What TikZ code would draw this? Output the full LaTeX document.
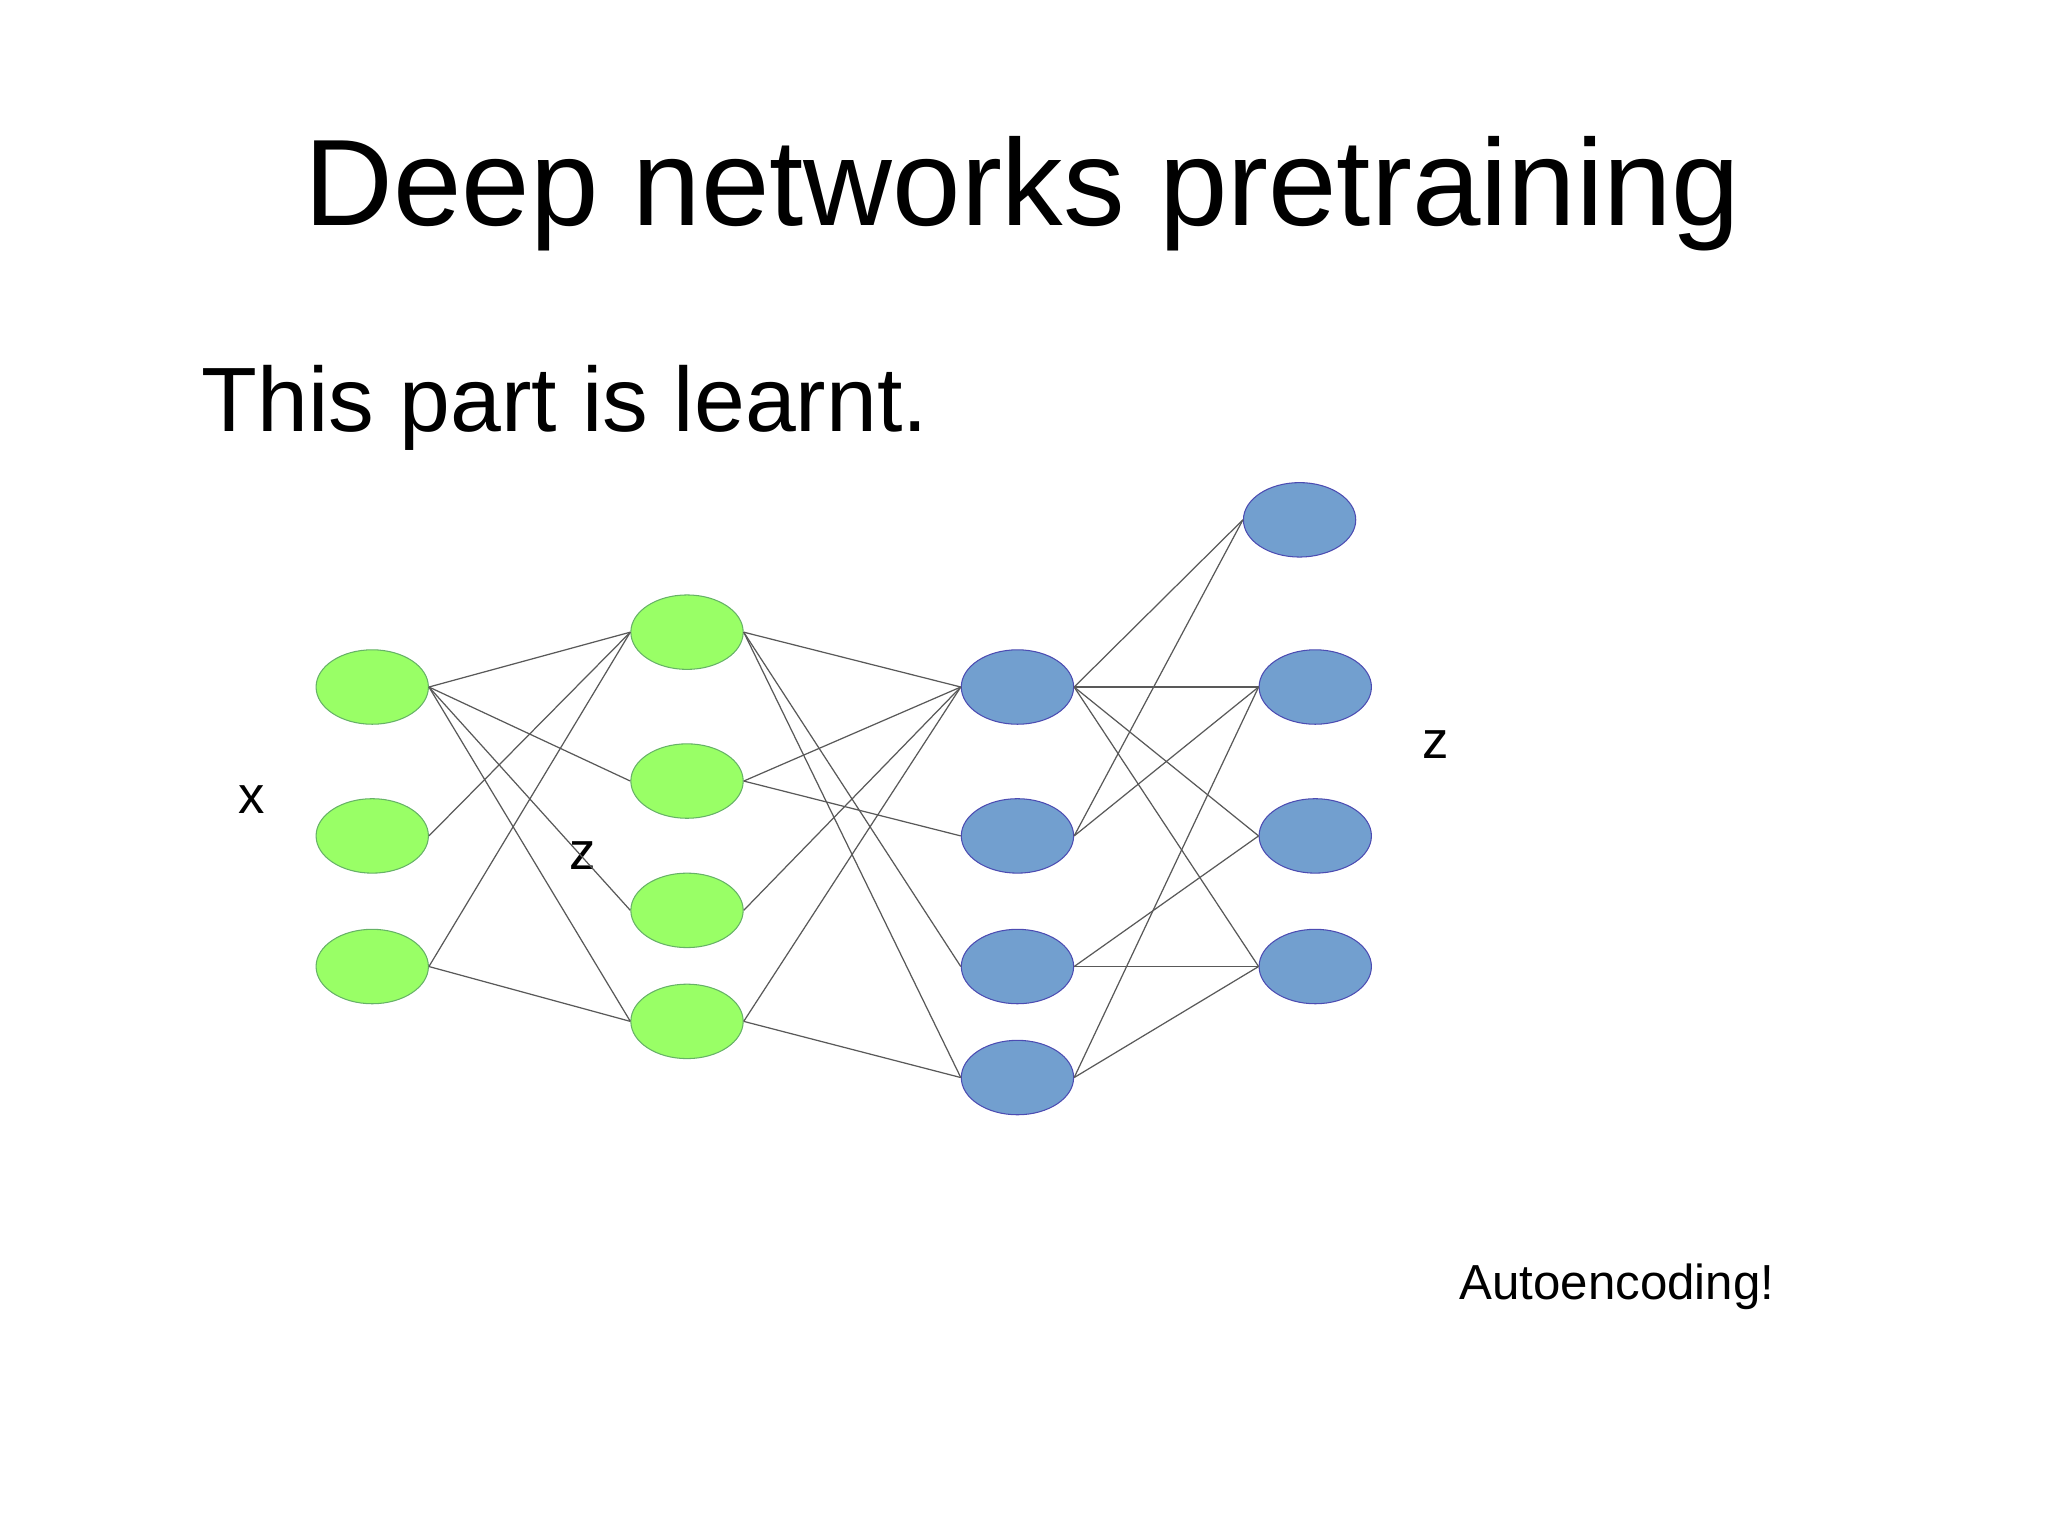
\documentclass[tikz,border=0pt]{standalone}
\usepackage{fontspec}
\setmainfont{Liberation Sans}
\usetikzlibrary{shapes.geometric}
\begin{document}
\begin{tikzpicture}[x=0.013061cm,y=-0.013061cm,
 g/.style={ellipse,draw=green!50!black!60,fill=green!60!lime!70!white,minimum width=86*0.013061cm,minimum height=57*0.013061cm,inner sep=0,line width=0.3pt},
 b/.style={ellipse,draw=blue!40!gray,fill={rgb,255:red,114;green,159;blue,207},minimum width=86*0.013061cm,minimum height=57*0.013061cm,inner sep=0,line width=0.3pt},
 e/.style={draw=gray!70!black,line width=0.35pt}]
\useasboundingbox (0,0) rectangle (1568,1175);
\colorlet{gfill}{green}
\tikzset{g/.append style={fill={rgb,255:red,153;green,255;blue,102}}}
\node at (783,148) {\fontsize{35}{40}\selectfont Deep networks pretraining};
\node[anchor=west] at (145,312) {\fontsize{26}{30}\selectfont This part is learnt.};
\node[anchor=west] at (1108,985) {\fontsize{14}{16}\selectfont Autoencoding!};
\node at (193,612) {\fontsize{15}{18}\selectfont x};
\node at (446,655) {\fontsize{15}{18}\selectfont z};
\node at (1099,570) {\fontsize{15}{18}\selectfont z};
\node[g] (a1) at (285,526) {}; \node[g] (a2) at (285,640) {}; \node[g] (a3) at (285,740) {};
\node[g] (c1) at (526,484) {}; \node[g] (c2) at (526,598) {}; \node[g] (c3) at (526,697) {}; \node[g] (c4) at (526,782) {};
\node[b] (d1) at (779,526) {}; \node[b] (d2) at (779,640) {}; \node[b] (d3) at (779,740) {}; \node[b] (d4) at (779,825) {};
\node[b] (t0) at (995,398) {};
\node[b] (t1) at (1007,526) {}; \node[b] (t2) at (1007,640) {}; \node[b] (t3) at (1007,740) {};
\foreach \s/\t in {a1/c1,a1/c2,a1/c3,a1/c4,a2/c1,a3/c1,a3/c4,
 c1/d1,c1/d3,c1/d4,c2/d1,c2/d2,c3/d1,c4/d1,c4/d4,
 d1/t0,d1/t1,d1/t2,d1/t3,d2/t0,d2/t1,d3/t2,d3/t3,d4/t1,d4/t3}
 \draw[e] (\s.east) -- (\t.west);
\end{tikzpicture}
\end{document}
